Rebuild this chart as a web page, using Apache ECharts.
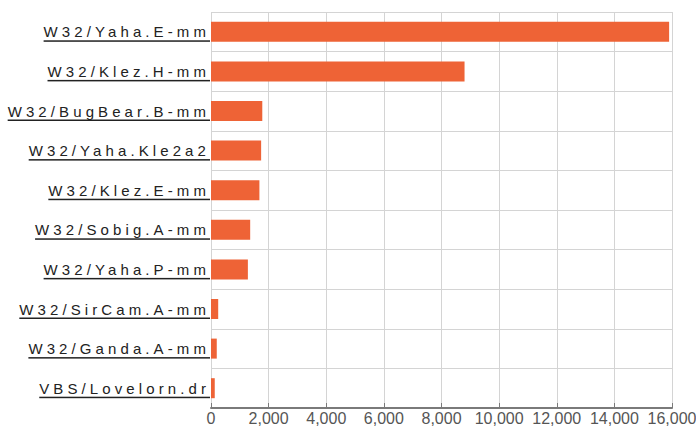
<!DOCTYPE html>
<html>
<head>
<meta charset="utf-8">
<script src="https://cdn.jsdelivr.net/npm/echarts@6/dist/echarts.min.js"></script>
<style>
  html, body { margin: 0; padding: 0; background: #fff; }
  #chart { width: 696px; height: 426px; }
  #chart text[text-anchor="end"] {
    letter-spacing: 4.1px;
    text-decoration: underline;
    text-decoration-thickness: 2px;
    text-underline-offset: 6px;
  }
</style>
</head>
<body>
<div id="chart"></div>
<script>
const categories = [
  'W32/Yaha.E-mm',
  'W32/Klez.H-mm',
  'W32/BugBear.B-mm',
  'W32/Yaha.Kle2a2',
  'W32/Klez.E-mm',
  'W32/Sobig.A-mm',
  'W32/Yaha.P-mm',
  'W32/SirCam.A-mm',
  'W32/Ganda.A-mm',
  'VBS/Lovelorn.dr'
];
const values = [15900, 8800, 1780, 1740, 1680, 1360, 1280, 250, 200, 130];
const xTicks = [0, 2000, 4000, 6000, 8000, 10000, 12000, 14000, 16000];

const chart = echarts.init(document.getElementById('chart'), null, { renderer: 'svg' });
chart.setOption({
  animation: false,
  grid: { left: 211, right: 24, top: 12, bottom: 18, containLabel: false, outerBoundsMode: 'none' },
  xAxis: {
    type: 'value',
    min: xTicks[0],
    max: xTicks[xTicks.length - 1],
    interval: xTicks[1] - xTicks[0],
    axisLine: { show: true, lineStyle: { color: '#7a7a7a', width: 2 } },
    axisTick: { show: true, inside: true, length: 5, lineStyle: { color: '#7a7a7a' } },
    axisLabel: {
      margin: 2,
      fontFamily: 'Liberation Sans, Arial, sans-serif',
      fontSize: 16,
      color: '#555',
      showMaxLabel: true,
      showMinLabel: true,
      formatter: v => v.toString().replace(/\B(?=(\d{3})+(?!\d))/g, ',')
    },
    splitLine: { show: true, lineStyle: { color: '#d4d4d4', width: 1 } }
  },
  yAxis: {
    type: 'category',
    inverse: true,
    data: categories,
    axisLine: { show: false },
    axisTick: { show: false },
    axisLabel: {
      margin: 1,
      fontFamily: 'Liberation Sans, Arial, sans-serif',
      fontSize: 15,
      color: '#222'
    },
    splitLine: { show: true, lineStyle: { color: '#d4d4d4', width: 1 } }
  },
  series: [{
    type: 'bar',
    data: values,
    barWidth: 20,
    itemStyle: { color: '#ee6336' }
  }]
});
</script>
</body>
</html>
